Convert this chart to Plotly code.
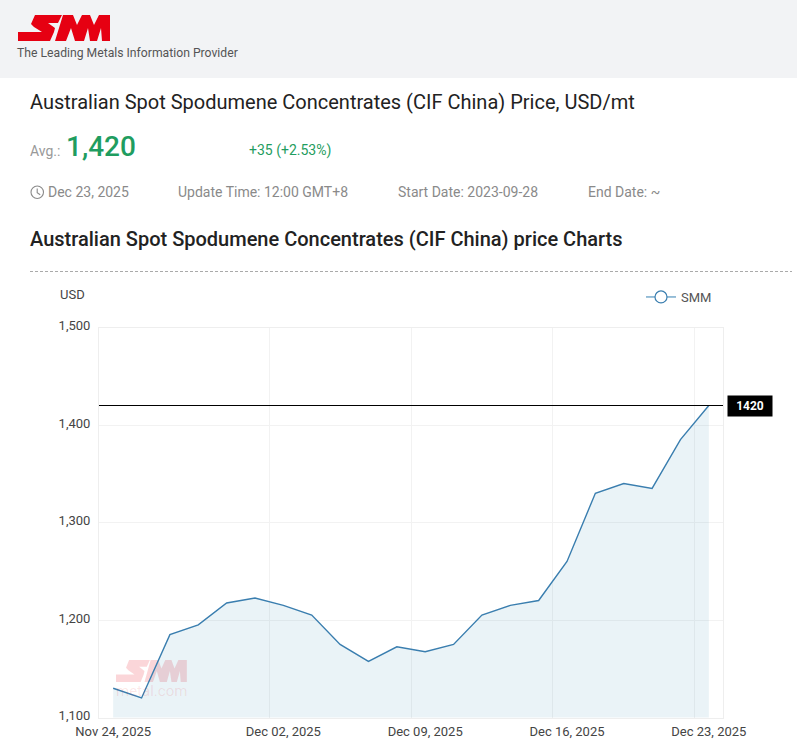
import plotly.graph_objects as go

W, H = 797, 750

dates = ["Nov 24, 2025", "Nov 25, 2025", "Nov 26, 2025", "Nov 27, 2025", "Nov 28, 2025",
         "Dec 01, 2025", "Dec 02, 2025", "Dec 03, 2025", "Dec 04, 2025", "Dec 05, 2025",
         "Dec 08, 2025", "Dec 09, 2025", "Dec 10, 2025", "Dec 11, 2025", "Dec 12, 2025",
         "Dec 15, 2025", "Dec 16, 2025", "Dec 17, 2025", "Dec 18, 2025", "Dec 19, 2025",
         "Dec 22, 2025", "Dec 23, 2025"]
prices = [1130, 1120, 1185, 1195, 1217.5, 1222.5, 1215, 1205, 1175, 1157.5, 1172.5,
          1167.5, 1175, 1205, 1215, 1220, 1260, 1330, 1340, 1335, 1385, 1420]
date_ticks = ["Nov 24, 2025", "Dec 02, 2025", "Dec 09, 2025", "Dec 16, 2025", "Dec 23, 2025"]
price_ticks = [1100, 1200, 1300, 1400, 1500]

LINE = "#3a7eaf"
FONT = "Roboto"


def fx(px):
    return px / W


def fy(py):
    return 1 - py / H


def poly(points, ox, oy, sx=1.0, sy=1.0):
    """SVG path in paper fractions from a pixel-based outline."""
    coords = [f"{fx(ox + x * sx):.5f},{fy(oy + y * sy):.5f}" for x, y in points]
    return "M" + " L".join(coords) + " Z"


S_OUTLINE = [(17, 0), (44, 0), (40, 8), (30, 8), (37, 13), (36, 17), (32, 26),
             (0, 26), (0, 17), (24, 17), (16, 12), (13, 9)]
MM_OUTLINE = [(45, 0), (55, 0), (59, 10), (64, 0), (72, 0), (76, 10), (81, 0), (92, 0),
              (92, 26), (84, 26), (83, 13), (79, 26), (72, 26), (70, 13), (66, 26),
              (57, 26), (53, 13), (48, 26), (37, 26)]


def text(x, y, s, size, color, weight=400):
    return dict(x=fx(x), y=fy(y), xref="paper", yref="paper", text=s, showarrow=False,
                xanchor="left", yanchor="middle", xshift=-2,
                font=dict(family=FONT, size=size, color=color, weight=weight))


fig = go.Figure()
fig.add_trace(go.Scatter(x=dates, y=prices, mode="lines", showlegend=False, hoverinfo="x+y",
                         line=dict(color=LINE, width=1.4), fill="tozeroy",
                         fillcolor="rgba(58,140,175,0.105)"))
# Legend entry with the hollow marker; the series itself is drawn without markers
fig.add_trace(go.Scatter(x=[None], y=[None], mode="lines+markers", name="SMM",
                         line=dict(color="#6ea4c8", width=1.4),
                         marker=dict(size=12, color="white", line=dict(color=LINE, width=1.2))))

shapes = [
    dict(type="rect", xref="paper", yref="paper", x0=0, x1=1, y0=fy(78), y1=1,
         fillcolor="#f2f3f5", line_width=0, layer="below"),
    dict(type="path", xref="paper", yref="paper", path=poly(S_OUTLINE, 18, 15),
         fillcolor="#e60012", line_width=0),
    dict(type="path", xref="paper", yref="paper", path=poly(MM_OUTLINE, 18, 15),
         fillcolor="#e60012", line_width=0),
    dict(type="path", xref="paper", yref="paper", path=poly(S_OUTLINE, 116, 660, 0.77, 0.85),
         fillcolor="#e60012", opacity=0.16, line_width=0, layer="between"),
    dict(type="path", xref="paper", yref="paper", path=poly(MM_OUTLINE, 116, 660, 0.77, 0.85),
         fillcolor="#e60012", opacity=0.16, line_width=0, layer="between"),
    # Clock icon beside the date
    dict(type="circle", xref="paper", yref="paper", x0=fx(31), x1=fx(43.5), y0=fy(198.5), y1=fy(186),
         line=dict(color="#8a8a8a", width=1.1)),
    dict(type="path", xref="paper", yref="paper",
         path=f"M{fx(37.2):.5f},{fy(188.5):.5f} L{fx(37.2):.5f},{fy(192.8):.5f} L{fx(40.2):.5f},{fy(194.8):.5f}",
         line=dict(color="#8a8a8a", width=1.1)),
    # Dashed separator under the section heading
    dict(type="line", xref="paper", yref="paper", x0=fx(30), x1=fx(792), y0=fy(271.5), y1=fy(271.5),
         line=dict(color="#aaaaaa", width=1, dash="3px,2px")),
    # Latest-price marker line
    dict(type="line", xref="x domain", yref="y", x0=0, x1=1, y0=prices[-1], y1=prices[-1],
         line=dict(color="#000000", width=1)),
]

annotations = [
    text(17, 53, "The Leading Metals Information Provider", 12.2, "#555555"),
    text(29.5, 102, "Australian Spot Spodumene Concentrates (CIF China) Price, USD/mt", 20, "#222222"),
    text(29.5, 150.5, "Avg.:", 14, "#999999"),
    text(66, 146, "1,420", 28, "#1f9d60", weight=500),
    text(249, 150.5, "+35 (+2.53%)", 14, "#1f9d60"),
    text(47.5, 192, "Dec 23, 2025", 14, "#8a8a8a"),
    text(178, 192, "Update Time: 12:00 GMT+8", 14, "#8a8a8a"),
    text(398, 192, "Start Date: 2023-09-28", 14, "#8a8a8a"),
    text(588, 192, "End Date: ~", 14, "#8a8a8a"),
    text(29.5, 239, "Australian Spot Spodumene Concentrates (CIF China) price Charts", 20, "#222222", weight=500),
    text(59.5, 294.5, "USD", 13, "#444444"),
    text(116, 691, "metal.com", 15, "rgba(230,0,18,0.1)"),
    dict(x=fx(750), y=prices[-1], xref="paper", yref="y", text="<b>1420</b>", showarrow=False,
         xanchor="center", yanchor="middle", bgcolor="#000000", width=42, height=18,
         font=dict(family=FONT, size=12, color="white")),
]

fig.update_layout(
    width=W, height=H, margin=dict(l=0, r=0, t=0, b=0),
    paper_bgcolor="white", plot_bgcolor="white",
    font=dict(family=FONT, size=13, color="#444444"),
    shapes=shapes, annotations=annotations,
    legend=dict(orientation="h", x=fx(717), y=fy(297), xanchor="right", yanchor="middle",
                bgcolor="rgba(0,0,0,0)", font=dict(family=FONT, size=13, color="#555555")),
    xaxis=dict(domain=[fx(99), fx(723)], type="category", categoryorder="array", categoryarray=dates,
               range=[-0.5, len(dates) - 0.5], tickmode="array", tickvals=date_ticks, ticktext=date_ticks,
               tickson="boundaries", showgrid=True, gridcolor="#f2f2f2", gridwidth=1, ticks="",
               tickangle=0, automargin=False, ticklabelstandoff=2,
               showline=True, linecolor="#eeeeee", mirror=True, zeroline=False,
               tickfont=dict(family=FONT, size=13, color="#444444")),
    yaxis=dict(domain=[fy(717.5), fy(327.5)], range=[1100, 1500], tickmode="array", tickvals=price_ticks,
               tickformat=",", showgrid=True, gridcolor="#f2f2f2", gridwidth=1, ticks="", automargin=False,
               ticklabelstandoff=5, ticklabelshift=-2,
               showline=True, linecolor="#eeeeee", mirror=True, zeroline=False,
               tickfont=dict(family=FONT, size=13, color="#444444")),
)

fig.write_html("out.html", config=dict(displayModeBar=False))
